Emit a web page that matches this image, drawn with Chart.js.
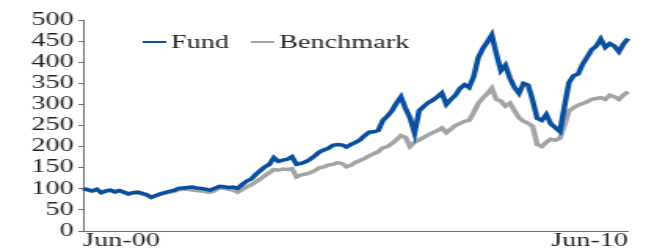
<!DOCTYPE html>
<html>
<head>
<meta charset="utf-8">
<script src="https://cdn.jsdelivr.net/npm/chart.js@4/dist/chart.umd.min.js"></script>
<style>
  html, body { margin: 0; padding: 0; background: #fff; overflow: hidden; }
  /* the reference is a horizontally stretched picture, so the chart is stretched the same way */
  #wrap { width: 426px; height: 252px; transform: scaleX(1.568); transform-origin: 0 0; }
</style>
</head>
<body>
<div id="wrap"><canvas id="chart" width="426" height="252"></canvas></div>
<script>
// monthly index, Jun-00 = 100
const fund = [
  100, 98, 95, 99, 91, 95, 97, 93, 96, 92, 88, 91,
  92, 89, 86, 80, 84, 88, 91, 94, 96, 101, 102, 103,
  104, 102, 101, 99, 97, 101, 106, 105, 103, 104, 101, 110,
  118, 123, 134, 143, 152, 158, 174, 165, 168, 170, 176, 158,
  160, 164, 170, 178, 187, 192, 196, 203, 205, 204, 199, 205,
  210, 216, 226, 234, 235, 238, 262, 272, 285, 303, 318, 290,
  268, 232, 285, 295, 304, 310, 318, 327, 300, 312, 322, 338,
  347, 340, 365, 410, 432, 448, 465, 420, 380, 393, 362, 340,
  326, 350, 346, 310, 267, 262, 276, 254, 245, 236, 295, 352,
  368, 372, 395, 412, 430, 438, 455, 435, 444, 438, 425, 443,
  456
];
const benchmark = [
  100, 97, 94, 98, 90, 94, 96, 92, 95, 91, 87, 90,
  91, 88, 85, 79, 83, 87, 90, 92, 94, 98, 99, 99,
  97, 96, 95, 93, 92, 96, 102, 101, 99, 97, 92, 98,
  104, 109, 116, 123, 131, 138, 146, 144, 147, 146, 148, 128,
  133, 135, 138, 143, 150, 152, 156, 158, 162, 160, 152, 156,
  163, 167, 172, 178, 183, 188, 197, 200, 207, 216, 226, 222,
  200, 210, 216, 222, 228, 233, 238, 244, 233, 242, 250, 255,
  260, 262, 280, 302, 315, 325, 338, 312, 308, 296, 303, 285,
  268, 260, 255, 248, 205, 200, 210, 218, 215, 220, 250, 285,
  292, 298, 302, 306, 312, 314, 316, 312, 322, 318, 312, 322,
  330
];
const monthNames = ['Jan','Feb','Mar','Apr','May','Jun','Jul','Aug','Sep','Oct','Nov','Dec'];
const months = [];
for (let i = 0; i < fund.length; i++) {
  const m = (5 + i) % 12;
  const y = Math.floor((5 + i) / 12);
  months.push(monthNames[m] + '-' + String(y).padStart(2, '0'));
}
const yTicks = [0, 50, 100, 150, 200, 250, 300, 350, 400, 450, 500];
const seriesNames = ['Fund', 'Benchmark'];
const seriesColors = ['#0a4f9e', '#a3a4a8'];

const serif = "'Liberation Serif', 'Times New Roman', serif";
const textColor = '#231f20';

const legendInside = {
  id: 'legendInside',
  afterDraw(chart) {
    const ctx = chart.ctx;
    ctx.save();
    ctx.font = '18px ' + serif;
    ctx.textBaseline = 'middle';
    ctx.fillStyle = textColor;
    let x = 91;
    const y = 42;
    seriesNames.forEach((name, i) => {
      ctx.strokeStyle = seriesColors[i];
      ctx.lineWidth = 2;
      ctx.beginPath();
      ctx.moveTo(x, y);
      ctx.lineTo(x + 15, y);
      ctx.stroke();
      ctx.fillText(name, x + 18, y + 1);
      x += 18 + ctx.measureText(name).width + 14;
    });
    ctx.restore();
  }
};

new Chart(document.getElementById('chart'), {
  type: 'line',
  data: {
    labels: months,
    datasets: [
      { label: seriesNames[0], data: fund, borderColor: seriesColors[0], borderWidth: 3.5, pointRadius: 0, tension: 0 },
      { label: seriesNames[1], data: benchmark, borderColor: seriesColors[1], borderWidth: 3.5, pointRadius: 0, tension: 0 }
    ]
  },
  options: {
    responsive: false,
    animation: false,
    devicePixelRatio: 1,
    layout: { padding: { top: 20, right: 25.5, bottom: 0, left: 0 } },
    plugins: { legend: { display: false }, tooltip: { enabled: false } },
    scales: {
      x: {
        type: 'category',
        offset: false,
        grid: { display: false, drawTicks: false },
        border: { display: true, color: '#6d6e71', width: 1 },
        ticks: {
          autoSkip: false, maxRotation: 0, align: 'inner', padding: 1,
          color: textColor, font: { family: serif, size: 18, lineHeight: 1 }
        },
        afterBuildTicks(scale) {
          const t = scale.ticks;
          scale.ticks = [t[0], t[t.length - 1]];
        },
        afterFit(scale) { scale.height = 21; }
      },
      y: {
        min: 0,
        max: 500,
        grid: { drawOnChartArea: false, drawTicks: true, tickLength: 3, color: '#6d6e71' },
        border: { display: true, color: '#6d6e71', width: 1 },
        ticks: {
          autoSkip: false, padding: 3, color: textColor, font: { family: serif, size: 18 }
        },
        afterBuildTicks(scale) {
          scale.ticks = yTicks.map(v => ({ value: v }));
        },
        afterFit(scale) { scale.width = 53; }
      }
    }
  },
  plugins: [legendInside]
});
</script>
</body>
</html>
